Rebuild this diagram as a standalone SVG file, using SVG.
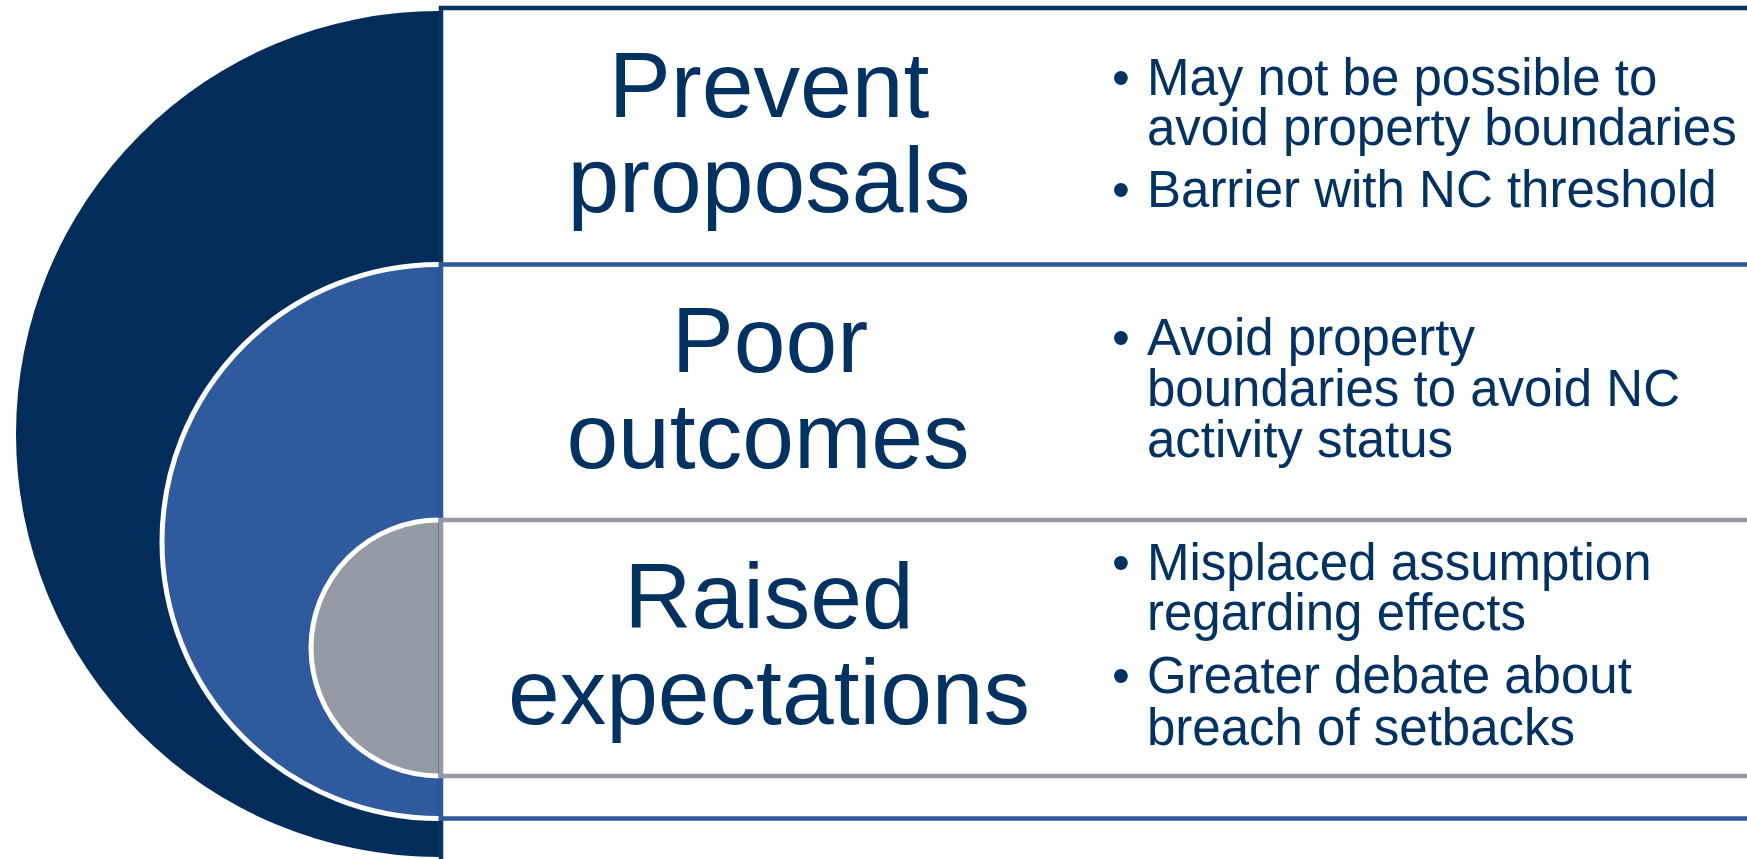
<svg xmlns="http://www.w3.org/2000/svg" width="1747" height="859" viewBox="0 0 1747 859">
<style>
.h{font-family:"Liberation Sans",Arial,sans-serif;font-size:93px;fill:#023262;text-anchor:middle}
.b{font-family:"Liberation Sans",Arial,sans-serif;font-size:51px;fill:#023262}
.arc{fill:none;stroke:#ffffff;stroke-width:5}
.box{fill:#ffffff;stroke-width:4.5}
</style>
<rect width="1747" height="859" fill="#ffffff"/>
<g id="shape-dark">
<path d="M439,11 A423,423 0 0 0 439,857 Z" fill="#022D5B"/>
</g>
<g id="shape-blue">
<path d="M439,264.5 A277,277 0 0 0 439,818.5 Z" fill="#2F5A9D"/>
<path class="arc" d="M439,264.5 A277,277 0 0 0 439,818.5"/>
</g>
<g id="shape-gray">
<path d="M439,520 A128,128 0 0 0 439,776 Z" fill="#959AA7"/>
<path class="arc" d="M439,520 A128,128 0 0 0 439,776"/>
</g>
<g id="node-prevent">
<rect class="box" x="441" y="8" width="1400" height="900" stroke="#0A325F"/>
<text class="h" x="769" y="117">Prevent</text>
<text class="h" x="769" y="212">proposals</text>
<text class="b" x="1112" y="95">•</text>
<text class="b" x="1147" y="95">May not be possible to</text>
<text class="b" x="1147" y="145">avoid property boundaries</text>
<text class="b" x="1112" y="207">•</text>
<text class="b" x="1147" y="207">Barrier with NC threshold</text>
</g>
<g id="node-poor">
<rect class="box" x="441" y="264.5" width="1400" height="554" stroke="#2F5A9D"/>
<text class="h" x="770" y="372">Poor</text>
<text class="h" x="768" y="468">outcomes</text>
<text class="b" x="1112" y="355">•</text>
<text class="b" x="1147" y="355">Avoid property</text>
<text class="b" x="1147" y="406">boundaries to avoid NC</text>
<text class="b" x="1147" y="457">activity status</text>
</g>
<g id="node-raised">
<rect class="box" x="441" y="520" width="1400" height="256" stroke="#959AA7"/>
<text class="h" x="769" y="628">Raised</text>
<text class="h" x="769" y="724">expectations</text>
<text class="b" x="1112" y="580">•</text>
<text class="b" x="1147" y="580">Misplaced assumption</text>
<text class="b" x="1147" y="630">regarding effects</text>
<text class="b" x="1112" y="693">•</text>
<text class="b" x="1147" y="693">Greater debate about</text>
<text class="b" x="1147" y="745">breach of setbacks</text>
</g>
<g id="connectors"/>
</svg>
